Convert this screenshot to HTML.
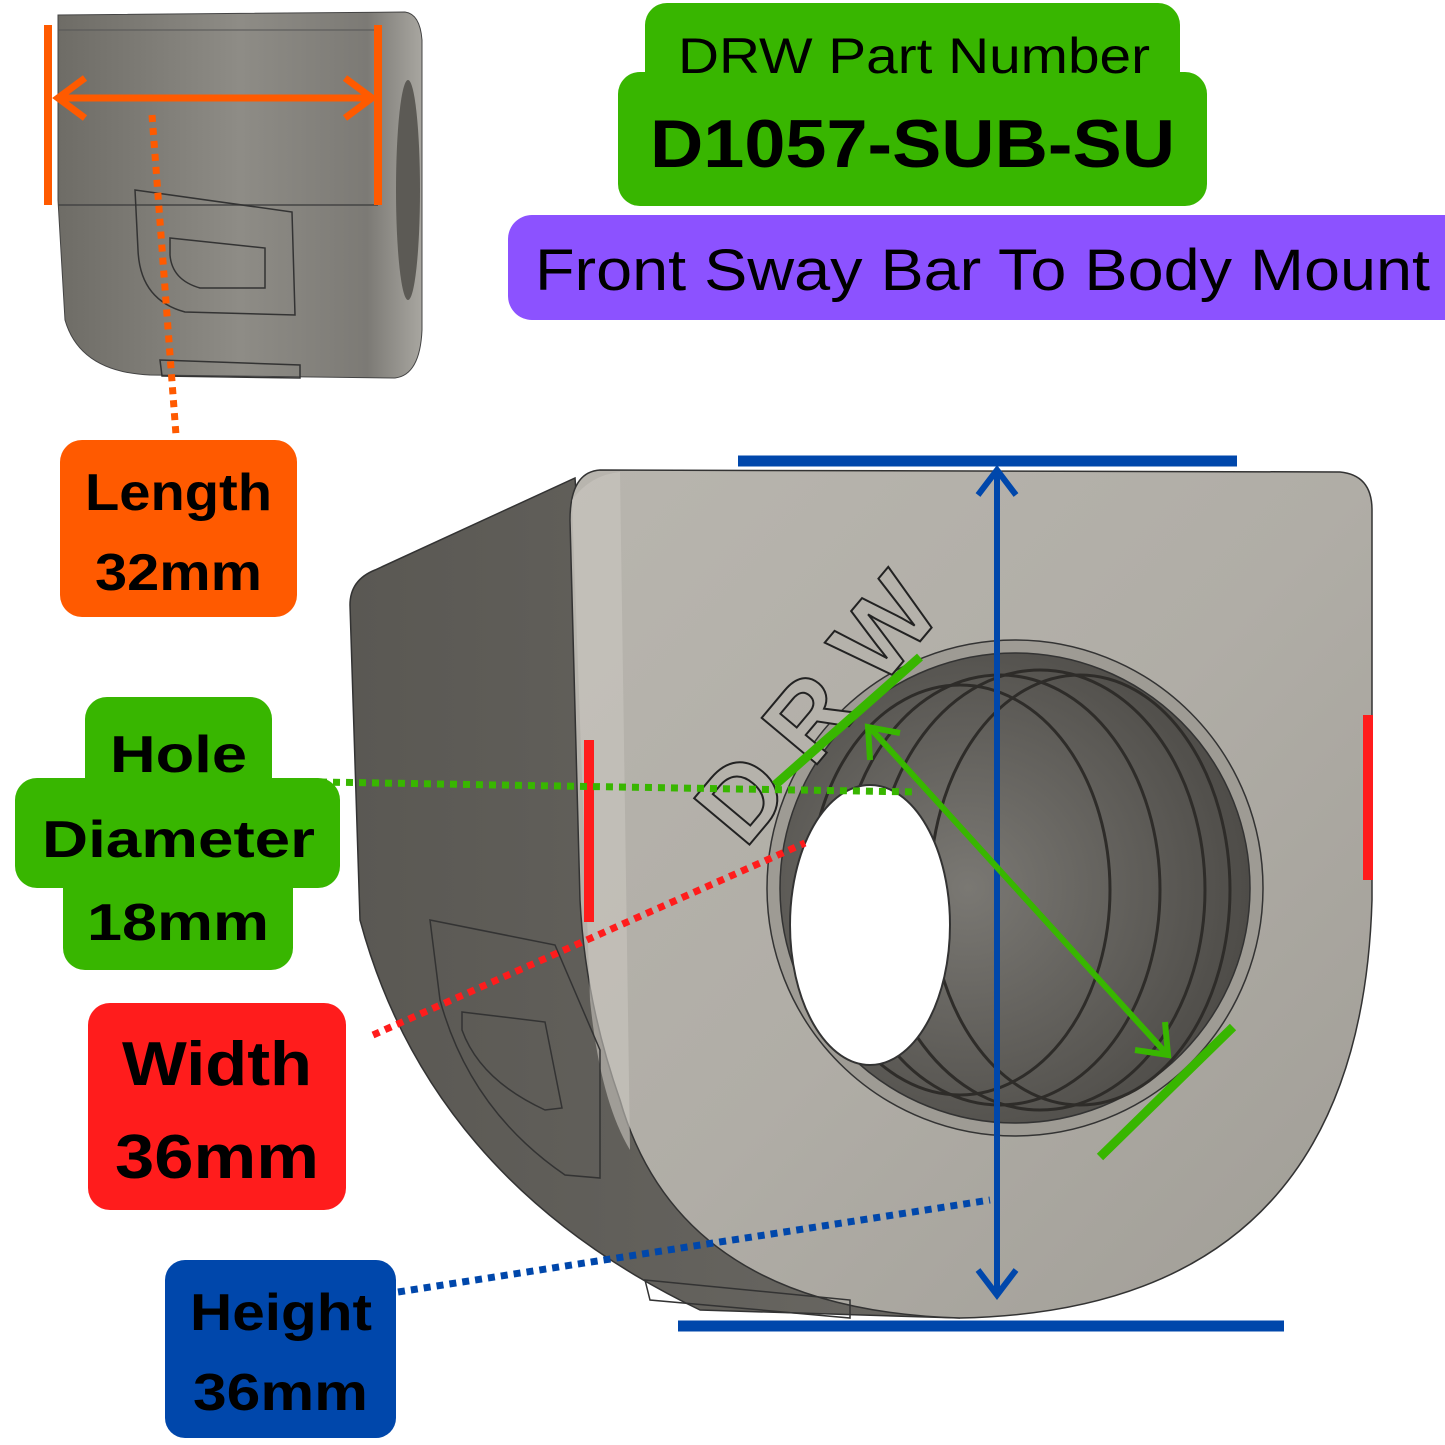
<!DOCTYPE html>
<html><head><meta charset="utf-8"><style>
html,body{margin:0;padding:0;background:#fff;}
svg{display:block}
text{font-family:"Liberation Sans",sans-serif;}
</style></head><body>
<svg width="1445" height="1445" viewBox="0 0 1445 1445" xmlns="http://www.w3.org/2000/svg">
<defs>
<linearGradient id="sm" x1="0" y1="0" x2="1" y2="0">
<stop offset="0" stop-color="#6e6c66"/><stop offset="0.5" stop-color="#8e8c86"/><stop offset="0.85" stop-color="#7c7a75"/><stop offset="1" stop-color="#a8a6a0"/></linearGradient>
<linearGradient id="front" x1="0" y1="0" x2="1" y2="1">
<stop offset="0" stop-color="#b8b5ae"/><stop offset="0.5" stop-color="#b0ada6"/><stop offset="1" stop-color="#a09d96"/></linearGradient>
<linearGradient id="side" x1="0" y1="0" x2="1" y2="0">
<stop offset="0" stop-color="#5a5853"/><stop offset="1" stop-color="#6a6863"/></linearGradient>
<radialGradient id="hole" cx="0.4" cy="0.5" r="0.6">
<stop offset="0" stop-color="#7a7873"/><stop offset="1" stop-color="#4e4c48"/></radialGradient>
</defs>

<!-- small top-left part -->
<path d="M58,15 L405,12 Q420,14 422,40 L422,330 Q420,375 395,378 L150,375 Q80,372 65,320 L58,200 Z" fill="url(#sm)" stroke="#444" stroke-width="1"/>
<line x1="58" y1="205" x2="378" y2="205" stroke="#444" stroke-width="1.5"/>
<line x1="58" y1="30" x2="378" y2="30" stroke="#555" stroke-width="1"/>
<path d="M135,190 L292,212 L295,315 L185,312 Q140,300 138,250 Z" fill="none" stroke="#333" stroke-width="1.5"/>
<path d="M170,238 L265,248 L265,288 L200,288 Q172,280 170,255 Z" fill="none" stroke="#333" stroke-width="1.5"/>
<ellipse cx="408" cy="190" rx="12" ry="110" fill="#5c5a55"/>
<path d="M160,360 L300,365 L300,378 L162,376 Z" fill="none" stroke="#333" stroke-width="1.5"/>
<!-- orange dims -->
<line x1="48" y1="25" x2="48" y2="205" stroke="#ff5a00" stroke-width="8"/>
<line x1="378" y1="25" x2="378" y2="205" stroke="#ff5a00" stroke-width="8"/>
<line x1="62" y1="98" x2="368" y2="98" stroke="#ff5a00" stroke-width="7"/>
<polyline points="85,78 58,98 85,118" fill="none" stroke="#ff5a00" stroke-width="7"/>
<polyline points="345,78 372,98 345,118" fill="none" stroke="#ff5a00" stroke-width="7"/>
<line x1="152" y1="115" x2="176" y2="435" stroke="#ff5a00" stroke-width="7" stroke-dasharray="7,6"/>

<!-- Length box -->
<rect x="60" y="440" width="237" height="177" rx="22" fill="#ff5a00"/>
<text x="85" y="510" font-size="52" font-weight="bold" textLength="187" lengthAdjust="spacingAndGlyphs">Length</text>
<text x="95" y="590" font-size="52" font-weight="bold" textLength="167" lengthAdjust="spacingAndGlyphs">32mm</text>

<!-- title -->
<rect x="645" y="3" width="535" height="110" rx="22" fill="#38b600"/>
<rect x="618" y="72" width="589" height="134" rx="22" fill="#38b600"/>
<text x="678" y="73" font-size="50" textLength="472" lengthAdjust="spacingAndGlyphs">DRW Part Number</text>
<text x="650" y="167" font-size="68" font-weight="bold" textLength="525" lengthAdjust="spacingAndGlyphs">D1057-SUB-SU</text>
<rect x="508" y="215" width="960" height="105" rx="24" fill="#8c52ff"/>
<text x="535" y="290" font-size="58" textLength="895" lengthAdjust="spacingAndGlyphs">Front Sway Bar To Body Mount</text>

<!-- main part -->
<path d="M350,605 Q350,580 375,570 L575,478 L620,1100 Q680,1300 960,1318 L700,1310 Q430,1180 360,920 Z" fill="url(#side)" stroke="#333" stroke-width="1.5"/>
<path d="M600,470 L1340,472 Q1372,475 1372,510 L1372,900 Q1360,1310 960,1318 Q680,1310 620,1100 Q585,1000 580,900 L570,520 Q570,472 600,470 Z" fill="url(#front)" stroke="#333" stroke-width="1.5"/>
<path d="M572,500 Q590,475 620,472 L630,1150 Q600,1100 590,1000 Z" fill="#c9c6bf" opacity="0.6"/>
<path d="M430,920 L555,945 L600,1050 L600,1178 L565,1175 Q470,1110 440,1000 Z" fill="none" stroke="#333" stroke-width="1.5"/>
<path d="M462,1012 L545,1022 L562,1108 L545,1110 Q480,1080 462,1030 Z" fill="none" stroke="#333" stroke-width="1.5"/>
<path d="M645,1280 L850,1300 L850,1318 L650,1300 Z" fill="none" stroke="#333" stroke-width="1.5"/>
<!-- hole -->
<circle cx="1015" cy="888" r="248" fill="#9e9b94" stroke="#333" stroke-width="1.5"/>
<circle cx="1015" cy="888" r="235" fill="url(#hole)" stroke="#333" stroke-width="1.5"/>
<g fill="none" stroke="#2e2c29" stroke-width="3">
<ellipse cx="960" cy="890" rx="150" ry="205"/>
<ellipse cx="1000" cy="890" rx="160" ry="215"/>
<ellipse cx="1040" cy="890" rx="165" ry="220"/>
<ellipse cx="1080" cy="890" rx="150" ry="215"/>
</g>
<ellipse cx="870" cy="925" rx="80" ry="140" fill="#fff" stroke="#333" stroke-width="2"/>
<text x="0" y="0" font-size="105" font-weight="bold" fill="#b5b2ab" stroke="#222" stroke-width="2" transform="translate(745,850) rotate(-50)">D R W</text>

<!-- blue dims -->
<line x1="738" y1="461" x2="1237" y2="461" stroke="#0047ab" stroke-width="11"/>
<line x1="678" y1="1326" x2="1284" y2="1326" stroke="#0047ab" stroke-width="11"/>
<line x1="997" y1="470" x2="997" y2="1295" stroke="#0047ab" stroke-width="6"/>
<polyline points="978,495 997,470 1016,495" fill="none" stroke="#0047ab" stroke-width="6"/>
<polyline points="978,1270 997,1295 1016,1270" fill="none" stroke="#0047ab" stroke-width="6"/>
<line x1="398" y1="1292" x2="990" y2="1200" stroke="#0047ab" stroke-width="7" stroke-dasharray="7,6"/>

<!-- red dims -->
<line x1="589" y1="740" x2="589" y2="922" stroke="#ff1c1c" stroke-width="10"/>
<line x1="1368" y1="715" x2="1368" y2="880" stroke="#ff1c1c" stroke-width="10"/>
<line x1="373" y1="1035" x2="805" y2="843" stroke="#ff1c1c" stroke-width="7" stroke-dasharray="7,6"/>

<!-- green dims -->
<line x1="775" y1="785" x2="920" y2="657" stroke="#38b600" stroke-width="9"/>
<line x1="1100" y1="1157" x2="1233" y2="1027" stroke="#38b600" stroke-width="9"/>
<line x1="872" y1="730" x2="1165" y2="1052" stroke="#38b600" stroke-width="6"/>
<polyline points="870,760 868,727 900,733" fill="none" stroke="#38b600" stroke-width="6"/>
<polyline points="1135,1050 1168,1055 1165,1022" fill="none" stroke="#38b600" stroke-width="6"/>
<line x1="320" y1="782" x2="918" y2="792" stroke="#38b600" stroke-width="7" stroke-dasharray="7,6"/>

<!-- Hole label -->
<rect x="85" y="697" width="187" height="130" rx="22" fill="#38b600"/>
<rect x="15" y="778" width="325" height="110" rx="22" fill="#38b600"/>
<rect x="63" y="850" width="230" height="120" rx="22" fill="#38b600"/>
<text x="110" y="772" font-size="52" font-weight="bold" textLength="137" lengthAdjust="spacingAndGlyphs">Hole</text>
<text x="42" y="857" font-size="52" font-weight="bold" textLength="273" lengthAdjust="spacingAndGlyphs">Diameter</text>
<text x="87" y="940" font-size="52" font-weight="bold" textLength="182" lengthAdjust="spacingAndGlyphs">18mm</text>

<!-- Width -->
<rect x="88" y="1003" width="258" height="207" rx="22" fill="#ff1c1c"/>
<text x="122" y="1085" font-size="62" font-weight="bold" textLength="190" lengthAdjust="spacingAndGlyphs">Width</text>
<text x="115" y="1178" font-size="62" font-weight="bold" textLength="204" lengthAdjust="spacingAndGlyphs">36mm</text>

<!-- Height -->
<rect x="165" y="1260" width="231" height="178" rx="20" fill="#0047ab"/>
<text x="190" y="1330" font-size="52" font-weight="bold" textLength="182" lengthAdjust="spacingAndGlyphs">Height</text>
<text x="193" y="1410" font-size="52" font-weight="bold" textLength="175" lengthAdjust="spacingAndGlyphs">36mm</text>
</svg>
</body></html>
